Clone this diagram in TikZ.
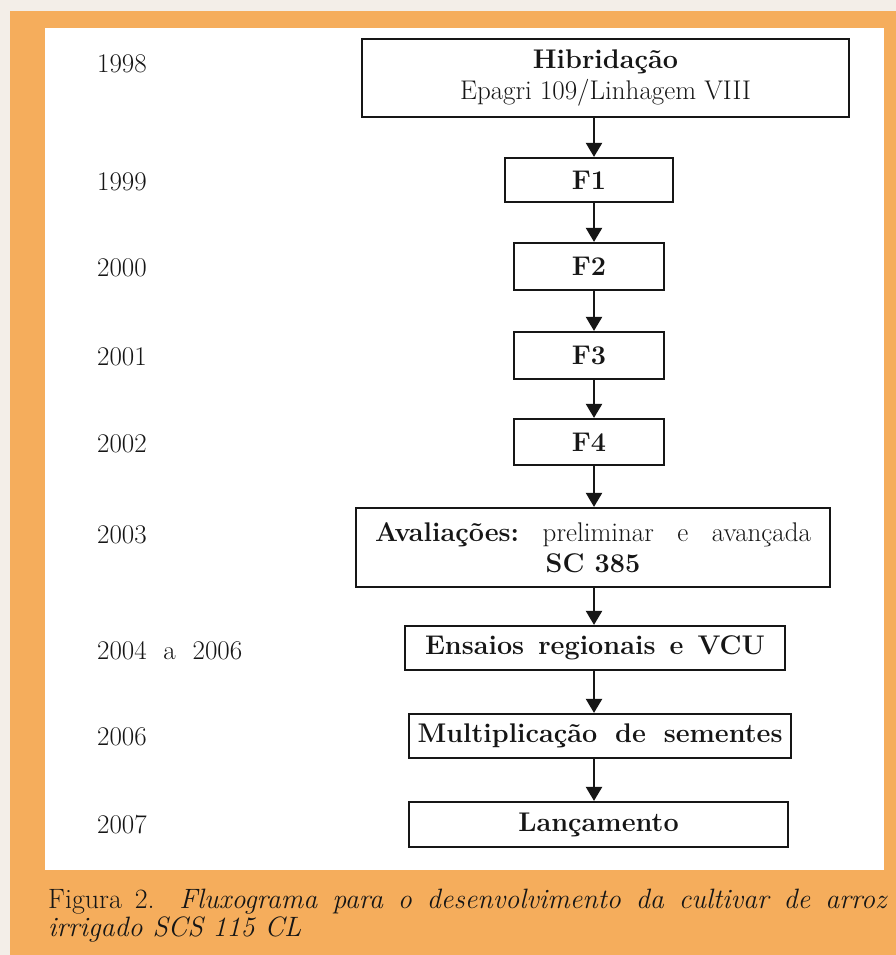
\documentclass[tikz,border=0pt]{standalone}
\usetikzlibrary{arrows.meta}
\definecolor{pageorange}{HTML}{F5AD5C}
\definecolor{paper}{HTML}{F3EEE8}
\definecolor{ink}{HTML}{161616}
\tikzset{
  stagebox/.style={draw=ink, line width=2.2pt, fill=white, inner sep=0pt, align=center,
    text=ink, font=\fontsize{27}{31}\selectfont\bfseries},
  yearlabel/.style={anchor=west, inner sep=0pt, text=ink, font=\fontsize{27}{30}\selectfont},
  flowarrow/.style={draw=ink, line width=2.2pt, -{Triangle[width=16pt,length=14pt]}},
  captiontext/.style={anchor=base west, inner sep=0pt, text=ink, font=\fontsize{28}{30}\selectfont}
}
\begin{document}
\begin{tikzpicture}[x=1pt,y=-1pt]
\useasboundingbox (0,0) rectangle (896,955);
% page background
\fill[paper] (0,0) rectangle (896,955);
\fill[pageorange] (10,11) rectangle (896,955);
\fill[white] (45,28) rectangle (884,870);
\coordinate (xcol) at (594,0);
% stages
\node[stagebox, minimum width=487pt, minimum height=78pt] (hib) at (605.5,78)
  {Hibridação\\{\mdseries Epagri 109/Linhagem VIII}};
\node[stagebox, minimum width=168pt, minimum height=44pt] (f1) at (589,180) {F1};
\node[stagebox, minimum width=150pt, minimum height=47pt] (f2) at (589,266.5) {F2};
\node[stagebox, minimum width=150pt, minimum height=47pt] (f3) at (589,355.5) {F3};
\node[stagebox, minimum width=150pt, minimum height=46pt] (f4) at (589,442) {F4};
\node[stagebox, minimum width=474pt, minimum height=79pt] (aval) at (593,547.5)
  {\makebox[436pt]{Avaliações:\hfill{\mdseries preliminar}\hfill{\mdseries e}\hfill{\mdseries avançada}}\\SC 385};
\node[stagebox, minimum width=380pt, minimum height=44pt] (ens) at (595,648)
  {\makebox[340pt][s]{Ensaios regionais e VCU}};
\node[stagebox, minimum width=382pt, minimum height=44pt] (mult) at (600,736)
  {\makebox[365pt][s]{Multiplicação de sementes}};
\node[stagebox, minimum width=379pt, minimum height=45pt] (lanc) at (598.5,824.5)
  {Lançamento};
% years
\node[yearlabel] (y1998) at (97,64) {1998};
\node[yearlabel] (y1999) at (97,182) {1999};
\node[yearlabel] (y2000) at (97,268) {2000};
\node[yearlabel] (y2001) at (97,357) {2001};
\node[yearlabel] (y2002) at (97,444) {2002};
\node[yearlabel] (y2003) at (97,535) {2003};
\node[yearlabel] (y2004) at (97,651) {\makebox[145pt][s]{2004 a 2006}};
\node[yearlabel] (y2006) at (97,737) {2006};
\node[yearlabel] (y2007) at (97,825) {2007};
% arrows
\draw[flowarrow] (hib.south -| xcol) -- (f1.north -| xcol);
\draw[flowarrow] (f1.south -| xcol) -- (f2.north -| xcol);
\draw[flowarrow] (f2.south -| xcol) -- (f3.north -| xcol);
\draw[flowarrow] (f3.south -| xcol) -- (f4.north -| xcol);
\draw[flowarrow] (f4.south -| xcol) -- (aval.north -| xcol);
\draw[flowarrow] (aval.south -| xcol) -- (ens.north -| xcol);
\draw[flowarrow] (ens.south -| xcol) -- (mult.north -| xcol);
\draw[flowarrow] (mult.south -| xcol) -- (lanc.north -| xcol);
% caption
\node[captiontext] (cap1) at (48,908)
  {\makebox[838pt][s]{Figura 2. \itshape Fluxograma para o desenvolvimento da cultivar de arroz}};
\node[captiontext] (cap2) at (48,936) {\itshape irrigado SCS 115 CL};
\end{tikzpicture}
\end{document}
